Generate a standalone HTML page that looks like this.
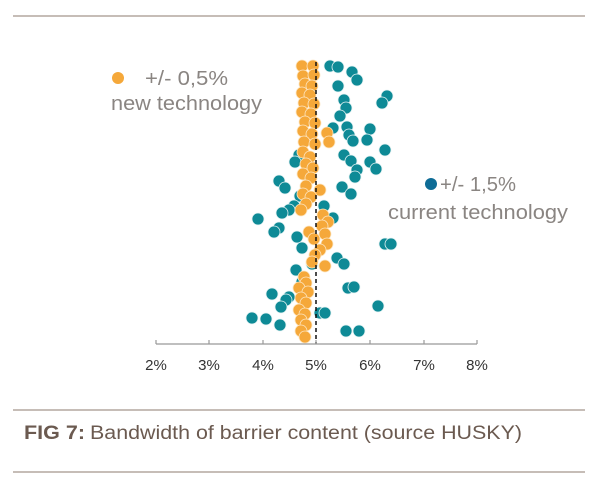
<!DOCTYPE html>
<html><head><meta charset="utf-8"><style>
html,body{margin:0;padding:0;background:#fff}
svg{display:block}
text{font-family:"Liberation Sans",sans-serif}
</style></head><body>
<svg width="600" height="496" viewBox="0 0 600 496">
<line x1="13" y1="16" x2="585" y2="16" stroke="#b3a79f" stroke-width="1.5"/>
<line x1="13" y1="410" x2="585" y2="410" stroke="#b3a79f" stroke-width="1.5"/>
<line x1="13" y1="472" x2="585" y2="472" stroke="#b3a79f" stroke-width="1.5"/>
<text x="24" y="439" font-size="19" fill="#6b5a50" font-weight="bold" textLength="61" lengthAdjust="spacingAndGlyphs">FIG 7:</text>
<text x="90" y="439" font-size="19" fill="#6b5a50" textLength="432" lengthAdjust="spacingAndGlyphs">Bandwidth of barrier content (source HUSKY)</text>
<g fill="#0e8a96" stroke="#e8f4f4" stroke-width="0.8">
<circle cx="330" cy="66" r="6"/><circle cx="338" cy="67" r="6"/><circle cx="352" cy="72" r="6"/><circle cx="357" cy="80" r="6"/><circle cx="338" cy="86" r="6"/><circle cx="344" cy="100" r="6"/><circle cx="346" cy="108" r="6"/><circle cx="387" cy="96" r="6"/><circle cx="382" cy="103" r="6"/><circle cx="340" cy="116" r="6"/><circle cx="333" cy="128" r="6"/><circle cx="347" cy="127" r="6"/><circle cx="349" cy="135" r="6"/><circle cx="353" cy="141" r="6"/><circle cx="370" cy="129" r="6"/><circle cx="367" cy="140" r="6"/><circle cx="344" cy="155" r="6"/><circle cx="351" cy="161" r="6"/><circle cx="299" cy="155" r="6"/><circle cx="295" cy="162" r="6"/><circle cx="370" cy="162" r="6"/><circle cx="376" cy="169" r="6"/><circle cx="385" cy="150" r="6"/><circle cx="357" cy="170" r="6"/><circle cx="355" cy="177" r="6"/><circle cx="279" cy="181" r="6"/><circle cx="285" cy="188" r="6"/><circle cx="342" cy="187" r="6"/><circle cx="351" cy="194" r="6"/><circle cx="300" cy="196" r="6"/><circle cx="294" cy="206" r="6"/><circle cx="324" cy="206" r="6"/><circle cx="333" cy="218" r="6"/><circle cx="289" cy="210" r="6"/><circle cx="258" cy="219" r="6"/><circle cx="282" cy="213" r="6"/><circle cx="279" cy="228" r="6"/><circle cx="274" cy="232" r="6"/><circle cx="297" cy="237" r="6"/><circle cx="385" cy="244" r="6"/><circle cx="391" cy="244" r="6"/><circle cx="302" cy="248" r="6"/><circle cx="312" cy="264" r="6"/><circle cx="337" cy="258" r="6"/><circle cx="344" cy="264" r="6"/><circle cx="302" cy="282" r="6"/><circle cx="348" cy="288" r="6"/><circle cx="354" cy="287" r="6"/><circle cx="272" cy="294" r="6"/><circle cx="289" cy="297" r="6"/><circle cx="286" cy="300" r="6"/><circle cx="281" cy="307" r="6"/><circle cx="378" cy="306" r="6"/><circle cx="252" cy="318" r="6"/><circle cx="266" cy="319" r="6"/><circle cx="280" cy="325" r="6"/><circle cx="320" cy="313" r="6"/><circle cx="325" cy="313" r="6"/><circle cx="346" cy="331" r="6"/><circle cx="359" cy="331" r="6"/><circle cx="296" cy="270" r="6"/>
</g>
<g fill="#f5a83a" stroke="#fde7c4" stroke-width="0.8">
<circle cx="302" cy="66" r="6"/><circle cx="313" cy="66" r="6"/><circle cx="303" cy="76" r="6"/><circle cx="314" cy="75" r="6"/><circle cx="305" cy="84" r="6"/><circle cx="312" cy="86" r="6"/><circle cx="302" cy="93" r="6"/><circle cx="310" cy="95" r="6"/><circle cx="304" cy="103" r="6"/><circle cx="314" cy="104" r="6"/><circle cx="302" cy="112" r="6"/><circle cx="311" cy="114" r="6"/><circle cx="305" cy="122" r="6"/><circle cx="315" cy="123" r="6"/><circle cx="327" cy="133" r="6"/><circle cx="329" cy="142" r="6"/><circle cx="303" cy="131" r="6"/><circle cx="312" cy="134" r="6"/><circle cx="304" cy="142" r="6"/><circle cx="315" cy="144" r="6"/><circle cx="303" cy="152" r="6"/><circle cx="310" cy="157" r="6"/><circle cx="306" cy="164" r="6"/><circle cx="313" cy="168" r="6"/><circle cx="303" cy="174" r="6"/><circle cx="311" cy="178" r="6"/><circle cx="306" cy="186" r="6"/><circle cx="320" cy="190" r="6"/><circle cx="303" cy="194" r="6"/><circle cx="311" cy="197" r="6"/><circle cx="306" cy="204" r="6"/><circle cx="301" cy="210" r="6"/><circle cx="323" cy="215" r="6"/><circle cx="328" cy="222" r="6"/><circle cx="322" cy="226" r="6"/><circle cx="325" cy="234" r="6"/><circle cx="309" cy="232" r="6"/><circle cx="314" cy="239" r="6"/><circle cx="327" cy="244" r="6"/><circle cx="320" cy="250" r="6"/><circle cx="315" cy="255" r="6"/><circle cx="312" cy="262" r="6"/><circle cx="325" cy="266" r="6"/><circle cx="304" cy="277" r="6"/><circle cx="306" cy="283" r="6"/><circle cx="299" cy="288" r="6"/><circle cx="308" cy="292" r="6"/><circle cx="301" cy="298" r="6"/><circle cx="306" cy="303" r="6"/><circle cx="299" cy="310" r="6"/><circle cx="305" cy="314" r="6"/><circle cx="301" cy="320" r="6"/><circle cx="306" cy="325" r="6"/><circle cx="301" cy="331" r="6"/><circle cx="305" cy="337" r="6"/>
</g>
<line x1="316" y1="62" x2="316" y2="344" stroke="#111" stroke-width="1.5" stroke-dasharray="4,3"/>
<line x1="156" y1="344" x2="477" y2="344" stroke="#999" stroke-width="1.2"/>
<g stroke="#999" stroke-width="1.2">
<line x1="156" y1="340" x2="156" y2="344"/><line x1="209" y1="340" x2="209" y2="344"/><line x1="263" y1="340" x2="263" y2="344"/><line x1="316" y1="340" x2="316" y2="344"/><line x1="370" y1="340" x2="370" y2="344"/><line x1="424" y1="340" x2="424" y2="344"/><line x1="477" y1="340" x2="477" y2="344"/>
</g>
<g font-size="15" fill="#333" text-anchor="middle">
<text x="156" y="370">2%</text><text x="209" y="370">3%</text><text x="263" y="370">4%</text><text x="316" y="370">5%</text><text x="370" y="370">6%</text><text x="424" y="370">7%</text><text x="477" y="370">8%</text>
</g>
<circle cx="118" cy="78" r="6" fill="#f5a83a"/>
<text x="145" y="85" font-size="20" fill="#8a8582" textLength="83" lengthAdjust="spacingAndGlyphs">+/- 0,5%</text>
<text x="111" y="110" font-size="20" fill="#8a8582" textLength="151" lengthAdjust="spacingAndGlyphs">new technology</text>
<circle cx="431" cy="184" r="6" fill="#0e6c96"/>
<text x="440" y="191" font-size="20" fill="#8a8582" textLength="76" lengthAdjust="spacingAndGlyphs">+/- 1,5%</text>
<text x="388" y="219" font-size="20" fill="#8a8582" textLength="180" lengthAdjust="spacingAndGlyphs">current technology</text>
</svg>
</body></html>
